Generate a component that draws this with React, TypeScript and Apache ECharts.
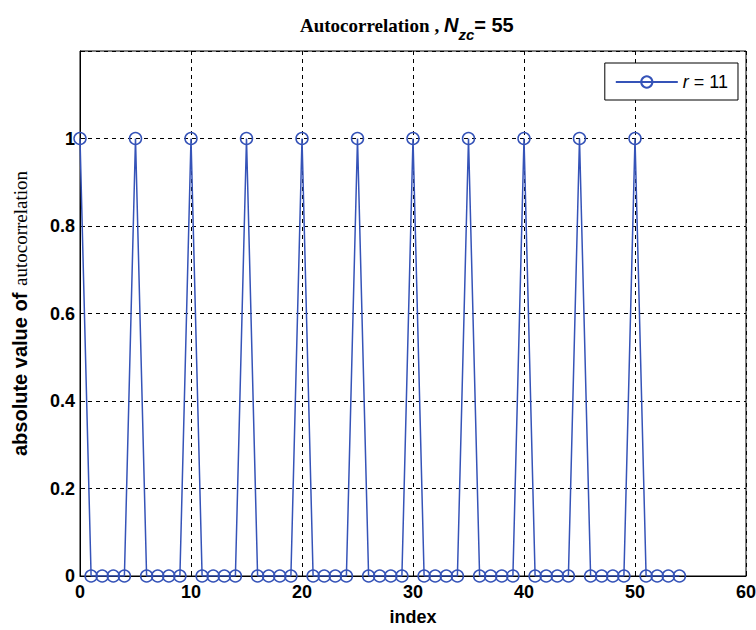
import React, { useEffect, useRef } from "react";
import * as echarts from "echarts";

const indices = [
  0, 1, 2, 3, 4, 5, 6, 7, 8, 9, 10, 11, 12, 13, 14, 15, 16, 17, 18, 19, 20, 21, 22, 23, 24, 25, 26, 27,
  28, 29, 30, 31, 32, 33, 34, 35, 36, 37, 38, 39, 40, 41, 42, 43, 44, 45, 46, 47, 48, 49, 50, 51, 52, 53, 54,
];
const values = [
  1, 0, 0, 0, 0, 1, 0, 0, 0, 0, 1, 0, 0, 0, 0, 1, 0, 0, 0, 0, 1, 0, 0, 0, 0, 1, 0, 0,
  0, 0, 1, 0, 0, 0, 0, 1, 0, 0, 0, 0, 1, 0, 0, 0, 0, 1, 0, 0, 0, 0, 1, 0, 0, 0, 0,
];
const seriesName = "r = 11";
const blue = "#3553b8";

export default function App() {
  const ref = useRef<HTMLDivElement>(null);
  useEffect(() => {
    if (!ref.current) return;
    const chart = echarts.init(ref.current, null, { renderer: "svg" });
    const sans = "'Liberation Sans', Arial, sans-serif";
    const serif = "'Liberation Serif', 'Times New Roman', serif";
    const tickFont = {
      fontFamily: sans,
      fontWeight: "bold" as const,
      fontSize: 18,
      color: "#000",
    };
    chart.setOption({
      animation: false,
      backgroundColor: "#fff",
      title: {
        text: "{a|Autocorrelation} {c|, }{n|N}{s|zc}{e|= 55}",
        left: 295,
        top: 6,
        textStyle: {
          rich: {
            a: { fontFamily: serif, fontWeight: "bold", fontSize: 19, color: "#000", verticalAlign: "bottom", lineHeight: 24 },
            c: { fontFamily: serif, fontWeight: "bold", fontSize: 19, color: "#000", verticalAlign: "bottom", lineHeight: 24 },
            n: { fontFamily: sans, fontWeight: "bold", fontStyle: "italic", fontSize: 20, color: "#000", verticalAlign: "bottom", lineHeight: 24 },
            s: { fontFamily: sans, fontWeight: "bold", fontStyle: "italic", fontSize: 15, color: "#000", verticalAlign: "bottom", lineHeight: 24, padding: [0, 0, -7, 0] },
            e: { fontFamily: sans, fontWeight: "bold", fontSize: 20, color: "#000", verticalAlign: "bottom", lineHeight: 24 },
          },
        },
      },
      legend: {
        data: [seriesName],
        right: 18,
        top: 63,
        orient: "vertical",
        backgroundColor: "#fff",
        borderColor: "#000",
        borderWidth: 1,
        borderRadius: 0,
        padding: [10, 10, 9, 10],
        itemWidth: 62,
        itemHeight: 14,
        itemGap: 0,
        formatter: () => "{i|r} = 11",
        textStyle: {
          fontFamily: sans,
          fontSize: 18,
          color: "#000",
          rich: {
            i: { fontFamily: sans, fontStyle: "italic", fontSize: 18, color: "#000" },
          },
        },
      },
      grid: {
        left: 80,
        right: 10,
        top: 51,
        bottom: 54,
        show: true,
        borderColor: "#000",
        borderWidth: 1,
        backgroundColor: "#fff",
        containLabel: false,
        outerBoundsMode: "none",
      },
      xAxis: {
        type: "value",
        min: 0,
        max: 60,
        interval: 10,
        name: "index",
        nameLocation: "middle",
        nameGap: 32,
        nameTextStyle: { ...tickFont, fontSize: 18 },
        axisLine: { show: true, onZero: false, lineStyle: { color: "#000" } },
        axisTick: { show: true, inside: true, length: 5, lineStyle: { color: "#000" } },
        axisLabel: { ...tickFont, margin: 7 },
        splitLine: { show: true, lineStyle: { color: "#000", type: [4, 4], width: 1 } },
      },
      yAxis: {
        type: "value",
        min: 0,
        max: 1.2,
        interval: 0.2,
        name: "{a|absolute value of}  {b|autocorrelation}",
        nameLocation: "middle",
        nameRotate: 90,
        nameGap: 50,
        nameTextStyle: {
          rich: {
            a: { fontFamily: sans, fontWeight: "bold", fontSize: 20, color: "#000" },
            b: { fontFamily: serif, fontSize: 19, color: "#000" },
          },
        },
        axisLine: { show: true, lineStyle: { color: "#000" } },
        axisTick: { show: true, inside: true, length: 5, lineStyle: { color: "#000" } },
        axisLabel: {
          ...tickFont,
          margin: 5,
          formatter: (v: number) => (v > 1.001 ? "" : String(Math.round(v * 10) / 10)),
        },
        splitLine: { show: true, lineStyle: { color: "#000", type: [4, 4], width: 1 } },
      },
      series: [
        {
          name: seriesName,
          type: "line",
          data: indices.map((x, i) => [x, values[i]]),
          symbol: "circle",
          symbolSize: 12,
          showAllSymbol: true,
          lineStyle: { color: blue, width: 1.5 },
          itemStyle: { color: "transparent", borderColor: blue, borderWidth: 1.5 },
          emphasis: { disabled: true },
          z: 5,
        },
      ],
    });
    return () => chart.dispose();
  }, []);
  return <div ref={ref} style={{ width: 756, height: 630, position: "absolute", left: 0, top: 0 }} />;
}
